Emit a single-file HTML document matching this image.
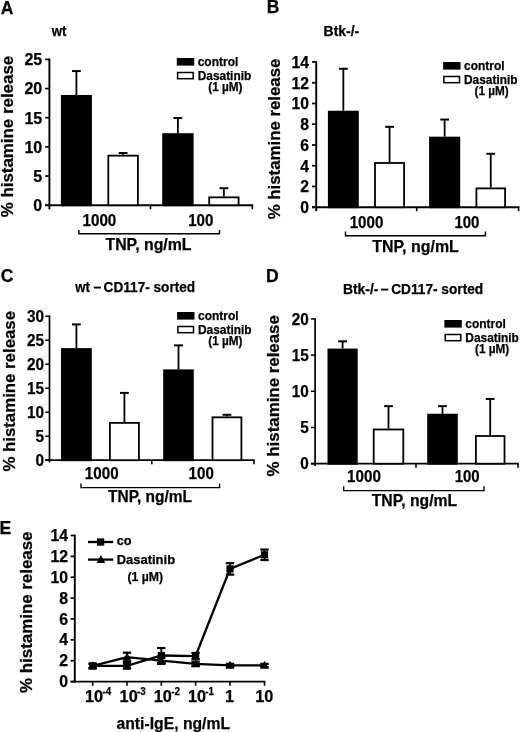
<!DOCTYPE html>
<html lang="en"><head><meta charset="utf-8"><title>Figure</title>
<style>html,body{margin:0;padding:0;background:#fff}svg{display:block}text{font-family:'Liberation Sans', Arial, Helvetica, sans-serif;font-weight:bold;fill:#000;stroke:#000;stroke-width:0.25px}</style>
</head><body>
<svg width="520" height="732" viewBox="0 0 520 732">
<rect x="0" y="0" width="520" height="732" fill="#fff"/>
<line x1="49.4" y1="58.55" x2="49.4" y2="209.39999999999998" stroke="#000" stroke-width="1.9" stroke-linecap="butt"/>
<line x1="45.199999999999996" y1="205.2" x2="253.10000000000002" y2="205.2" stroke="#000" stroke-width="1.9" stroke-linecap="butt"/>
<line x1="45.199999999999996" y1="205.2" x2="49.4" y2="205.2" stroke="#000" stroke-width="1.7" stroke-linecap="butt"/>
<text x="42.199999999999996" y="211.1" font-size="16" text-anchor="end">0</text>
<line x1="45.199999999999996" y1="176.04" x2="49.4" y2="176.04" stroke="#000" stroke-width="1.7" stroke-linecap="butt"/>
<text x="42.199999999999996" y="181.94" font-size="16" text-anchor="end">5</text>
<line x1="45.199999999999996" y1="146.88" x2="49.4" y2="146.88" stroke="#000" stroke-width="1.7" stroke-linecap="butt"/>
<text x="42.199999999999996" y="152.78" font-size="16" text-anchor="end">10</text>
<line x1="45.199999999999996" y1="117.72" x2="49.4" y2="117.72" stroke="#000" stroke-width="1.7" stroke-linecap="butt"/>
<text x="42.199999999999996" y="123.62" font-size="16" text-anchor="end">15</text>
<line x1="45.199999999999996" y1="88.56" x2="49.4" y2="88.56" stroke="#000" stroke-width="1.7" stroke-linecap="butt"/>
<text x="42.199999999999996" y="94.46" font-size="16" text-anchor="end">20</text>
<line x1="45.199999999999996" y1="59.400000000000006" x2="49.4" y2="59.400000000000006" stroke="#000" stroke-width="1.7" stroke-linecap="butt"/>
<text x="42.199999999999996" y="65.3" font-size="16" text-anchor="end">25</text>
<line x1="150.5" y1="205.2" x2="150.5" y2="209.2" stroke="#000" stroke-width="1.6" stroke-linecap="butt"/>
<line x1="252.3" y1="205.2" x2="252.3" y2="209.2" stroke="#000" stroke-width="1.6" stroke-linecap="butt"/>
<line x1="76.4" y1="71.06400000000002" x2="76.4" y2="94.97520000000002" stroke="#000" stroke-width="1.8" stroke-linecap="butt"/>
<line x1="72.0" y1="71.06400000000002" x2="80.80000000000001" y2="71.06400000000002" stroke="#000" stroke-width="2" stroke-linecap="butt"/>
<rect x="60.9" y="94.97520000000002" width="31.000000000000007" height="111.22479999999997" fill="#000"/>
<line x1="123.10000000000001" y1="153.0036" x2="123.10000000000001" y2="154.7532" stroke="#000" stroke-width="1.8" stroke-linecap="butt"/>
<line x1="118.7" y1="153.0036" x2="127.50000000000001" y2="153.0036" stroke="#000" stroke-width="2" stroke-linecap="butt"/>
<rect x="108.30000000000001" y="155.6532" width="29.600000000000005" height="49.5468" fill="#fff" stroke="#000" stroke-width="1.8"/>
<line x1="177.89999999999998" y1="118.0116" x2="177.89999999999998" y2="133.1748" stroke="#000" stroke-width="1.8" stroke-linecap="butt"/>
<line x1="173.49999999999997" y1="118.0116" x2="182.29999999999998" y2="118.0116" stroke="#000" stroke-width="2" stroke-linecap="butt"/>
<rect x="162.2" y="133.1748" width="31.400000000000006" height="73.02519999999998" fill="#000"/>
<line x1="223.9" y1="188.17056" x2="223.9" y2="196.452" stroke="#000" stroke-width="1.8" stroke-linecap="butt"/>
<line x1="219.5" y1="188.17056" x2="228.3" y2="188.17056" stroke="#000" stroke-width="2" stroke-linecap="butt"/>
<rect x="209.20000000000002" y="197.352" width="29.399999999999988" height="7.84799999999999" fill="#fff" stroke="#000" stroke-width="1.8"/>
<text x="99.4" y="225.6" font-size="16" text-anchor="middle" textLength="33.8" lengthAdjust="spacingAndGlyphs">1000</text>
<text x="200.8" y="225.6" font-size="16" text-anchor="middle" textLength="25.2" lengthAdjust="spacingAndGlyphs">100</text>
<polyline points="78.9,230 78.9,233.8 219.5,233.8 219.5,230" fill="none" stroke="#000" stroke-width="1.4"/>
<text x="105.5" y="249.5" font-size="16.5" text-anchor="start" textLength="86" lengthAdjust="spacingAndGlyphs">TNP, ng/mL</text>
<text x="12.9" y="217.3" font-size="16.5" text-anchor="start" textLength="161.5" lengthAdjust="spacingAndGlyphs" transform="rotate(-90 12.9 217.3)">% histamine release</text>
<text x="0.8" y="13.8" font-size="17.5" text-anchor="start">A</text>
<text x="51.8" y="35.8" font-size="14" text-anchor="start" textLength="14.6" lengthAdjust="spacingAndGlyphs">wt</text>
<rect x="176.8" y="58.0" width="17.4" height="7.6" fill="#000"/>
<text x="197.7" y="65.7" font-size="12.2" text-anchor="start" textLength="40.6" lengthAdjust="spacingAndGlyphs">control</text>
<rect x="177.6" y="72.5" width="15.6" height="6.199999999999999" fill="#fff" stroke="#000" stroke-width="1.5"/>
<text x="197.7" y="79.7" font-size="12.2" text-anchor="start" textLength="53.6" lengthAdjust="spacingAndGlyphs">Dasatinib</text>
<text x="208.3" y="91.2" font-size="12.2" text-anchor="start" textLength="34.2" lengthAdjust="spacingAndGlyphs">(1 µM)</text>
<line x1="316.2" y1="61.15" x2="316.2" y2="211.1" stroke="#000" stroke-width="1.9" stroke-linecap="butt"/>
<line x1="312.0" y1="207.2" x2="519.4" y2="207.2" stroke="#000" stroke-width="1.9" stroke-linecap="butt"/>
<line x1="312.0" y1="207.2" x2="316.2" y2="207.2" stroke="#000" stroke-width="1.7" stroke-linecap="butt"/>
<text x="309.0" y="213.0" font-size="15.7" text-anchor="end">0</text>
<line x1="312.0" y1="186.45714285714286" x2="316.2" y2="186.45714285714286" stroke="#000" stroke-width="1.7" stroke-linecap="butt"/>
<text x="309.0" y="192.26" font-size="15.7" text-anchor="end">2</text>
<line x1="312.0" y1="165.71428571428572" x2="316.2" y2="165.71428571428572" stroke="#000" stroke-width="1.7" stroke-linecap="butt"/>
<text x="309.0" y="171.51" font-size="15.7" text-anchor="end">4</text>
<line x1="312.0" y1="144.97142857142856" x2="316.2" y2="144.97142857142856" stroke="#000" stroke-width="1.7" stroke-linecap="butt"/>
<text x="309.0" y="150.77" font-size="15.7" text-anchor="end">6</text>
<line x1="312.0" y1="124.22857142857143" x2="316.2" y2="124.22857142857143" stroke="#000" stroke-width="1.7" stroke-linecap="butt"/>
<text x="309.0" y="130.03" font-size="15.7" text-anchor="end">8</text>
<line x1="312.0" y1="103.4857142857143" x2="316.2" y2="103.4857142857143" stroke="#000" stroke-width="1.7" stroke-linecap="butt"/>
<text x="309.0" y="109.29" font-size="15.7" text-anchor="end">10</text>
<line x1="312.0" y1="82.74285714285715" x2="316.2" y2="82.74285714285715" stroke="#000" stroke-width="1.7" stroke-linecap="butt"/>
<text x="309.0" y="88.54" font-size="15.7" text-anchor="end">12</text>
<line x1="312.0" y1="62.0" x2="316.2" y2="62.0" stroke="#000" stroke-width="1.7" stroke-linecap="butt"/>
<text x="309.0" y="67.8" font-size="15.7" text-anchor="end">14</text>
<line x1="416.7" y1="207.2" x2="416.7" y2="211.2" stroke="#000" stroke-width="1.6" stroke-linecap="butt"/>
<line x1="518.6" y1="207.2" x2="518.6" y2="211.2" stroke="#000" stroke-width="1.6" stroke-linecap="butt"/>
<line x1="343.35" y1="68.74142857142857" x2="343.35" y2="110.74571428571429" stroke="#000" stroke-width="1.8" stroke-linecap="butt"/>
<line x1="338.95000000000005" y1="68.74142857142857" x2="347.75" y2="68.74142857142857" stroke="#000" stroke-width="2" stroke-linecap="butt"/>
<rect x="327.9" y="110.74571428571429" width="30.900000000000034" height="97.4542857142857" fill="#000"/>
<line x1="389.55" y1="126.82142857142857" x2="389.55" y2="162.08428571428573" stroke="#000" stroke-width="1.8" stroke-linecap="butt"/>
<line x1="385.15000000000003" y1="126.82142857142857" x2="393.95" y2="126.82142857142857" stroke="#000" stroke-width="2" stroke-linecap="butt"/>
<rect x="375.0" y="162.98428571428573" width="29.099999999999977" height="44.21571428571426" fill="#fff" stroke="#000" stroke-width="1.8"/>
<line x1="444.65" y1="119.56142857142858" x2="444.65" y2="136.6742857142857" stroke="#000" stroke-width="1.8" stroke-linecap="butt"/>
<line x1="440.25" y1="119.56142857142858" x2="449.04999999999995" y2="119.56142857142858" stroke="#000" stroke-width="2" stroke-linecap="butt"/>
<rect x="429.1" y="136.6742857142857" width="31.099999999999966" height="71.52571428571429" fill="#000"/>
<line x1="490.75" y1="153.78714285714284" x2="490.75" y2="187.4942857142857" stroke="#000" stroke-width="1.8" stroke-linecap="butt"/>
<line x1="486.35" y1="153.78714285714284" x2="495.15" y2="153.78714285714284" stroke="#000" stroke-width="2" stroke-linecap="butt"/>
<rect x="476.4" y="188.3942857142857" width="28.7" height="18.805714285714295" fill="#fff" stroke="#000" stroke-width="1.8"/>
<text x="366.5" y="227.5" font-size="16" text-anchor="middle" textLength="33.6" lengthAdjust="spacingAndGlyphs">1000</text>
<text x="466.9" y="227.5" font-size="16" text-anchor="middle" textLength="25.0" lengthAdjust="spacingAndGlyphs">100</text>
<polyline points="345.5,231.5 345.5,235.8 485.4,235.8 485.4,231.5" fill="none" stroke="#000" stroke-width="1.4"/>
<text x="372.3" y="251.6" font-size="16.5" text-anchor="start" textLength="86.5" lengthAdjust="spacingAndGlyphs">TNP, ng/mL</text>
<text x="280.0" y="219.3" font-size="16.5" text-anchor="start" textLength="160.7" lengthAdjust="spacingAndGlyphs" transform="rotate(-90 280.0 219.3)">% histamine release</text>
<text x="266.8" y="12.75" font-size="17.5" text-anchor="start">B</text>
<text x="323.6" y="36.3" font-size="14" text-anchor="start" textLength="35.6" lengthAdjust="spacingAndGlyphs">Btk-/-</text>
<rect x="443.1" y="62" width="17.4" height="7.6" fill="#000"/>
<text x="464.0" y="69.7" font-size="12.2" text-anchor="start" textLength="40.6" lengthAdjust="spacingAndGlyphs">control</text>
<rect x="443.90000000000003" y="76.5" width="15.6" height="6.199999999999999" fill="#fff" stroke="#000" stroke-width="1.5"/>
<text x="464.0" y="83.7" font-size="12.2" text-anchor="start" textLength="53.6" lengthAdjust="spacingAndGlyphs">Dasatinib</text>
<text x="474.6" y="95.2" font-size="12.2" text-anchor="start" textLength="34.2" lengthAdjust="spacingAndGlyphs">(1 µM)</text>
<line x1="49.5" y1="315.45" x2="49.5" y2="462.4" stroke="#000" stroke-width="1.7" stroke-linecap="butt"/>
<line x1="45.3" y1="460.2" x2="254.8" y2="460.2" stroke="#000" stroke-width="1.7" stroke-linecap="butt"/>
<line x1="45.3" y1="460.2" x2="49.5" y2="460.2" stroke="#000" stroke-width="1.5" stroke-linecap="butt"/>
<text x="44.1" y="465.6" font-size="16" text-anchor="end" textLength="8.5" lengthAdjust="spacingAndGlyphs">0</text>
<line x1="45.3" y1="436.2" x2="49.5" y2="436.2" stroke="#000" stroke-width="1.5" stroke-linecap="butt"/>
<text x="44.1" y="441.6" font-size="16" text-anchor="end" textLength="8.5" lengthAdjust="spacingAndGlyphs">5</text>
<line x1="45.3" y1="412.2" x2="49.5" y2="412.2" stroke="#000" stroke-width="1.5" stroke-linecap="butt"/>
<text x="44.1" y="417.6" font-size="16" text-anchor="end" textLength="17.0" lengthAdjust="spacingAndGlyphs">10</text>
<line x1="45.3" y1="388.2" x2="49.5" y2="388.2" stroke="#000" stroke-width="1.5" stroke-linecap="butt"/>
<text x="44.1" y="393.6" font-size="16" text-anchor="end" textLength="17.0" lengthAdjust="spacingAndGlyphs">15</text>
<line x1="45.3" y1="364.2" x2="49.5" y2="364.2" stroke="#000" stroke-width="1.5" stroke-linecap="butt"/>
<text x="44.1" y="369.6" font-size="16" text-anchor="end" textLength="17.0" lengthAdjust="spacingAndGlyphs">20</text>
<line x1="45.3" y1="340.2" x2="49.5" y2="340.2" stroke="#000" stroke-width="1.5" stroke-linecap="butt"/>
<text x="44.1" y="345.6" font-size="16" text-anchor="end" textLength="17.0" lengthAdjust="spacingAndGlyphs">25</text>
<line x1="45.3" y1="316.2" x2="49.5" y2="316.2" stroke="#000" stroke-width="1.5" stroke-linecap="butt"/>
<text x="44.1" y="321.6" font-size="16" text-anchor="end" textLength="17.0" lengthAdjust="spacingAndGlyphs">30</text>
<line x1="151.8" y1="460.2" x2="151.8" y2="464.2" stroke="#000" stroke-width="1.6" stroke-linecap="butt"/>
<line x1="254" y1="460.2" x2="254" y2="464.2" stroke="#000" stroke-width="1.6" stroke-linecap="butt"/>
<line x1="76.4" y1="324.408" x2="76.4" y2="348.12" stroke="#000" stroke-width="1.8" stroke-linecap="butt"/>
<line x1="72.0" y1="324.408" x2="80.80000000000001" y2="324.408" stroke="#000" stroke-width="2" stroke-linecap="butt"/>
<rect x="61.0" y="348.12" width="30.799999999999997" height="113.07999999999998" fill="#000"/>
<line x1="124.4" y1="392.904" x2="124.4" y2="421.99199999999996" stroke="#000" stroke-width="1.8" stroke-linecap="butt"/>
<line x1="120.0" y1="392.904" x2="128.8" y2="392.904" stroke="#000" stroke-width="2" stroke-linecap="butt"/>
<rect x="109.9" y="422.89199999999994" width="29.00000000000001" height="37.30800000000003" fill="#fff" stroke="#000" stroke-width="1.8"/>
<line x1="178.5" y1="345.384" x2="178.5" y2="369.384" stroke="#000" stroke-width="1.8" stroke-linecap="butt"/>
<line x1="174.1" y1="345.384" x2="182.9" y2="345.384" stroke="#000" stroke-width="2" stroke-linecap="butt"/>
<rect x="163.2" y="369.384" width="30.600000000000023" height="91.81599999999997" fill="#000"/>
<line x1="226.95" y1="414.792" x2="226.95" y2="416.424" stroke="#000" stroke-width="1.8" stroke-linecap="butt"/>
<line x1="222.54999999999998" y1="414.792" x2="231.35" y2="414.792" stroke="#000" stroke-width="2" stroke-linecap="butt"/>
<rect x="212.5" y="417.32399999999996" width="28.900000000000016" height="42.87600000000001" fill="#fff" stroke="#000" stroke-width="1.8"/>
<text x="101.7" y="479.4" font-size="16" text-anchor="middle" textLength="33.8" lengthAdjust="spacingAndGlyphs">1000</text>
<text x="201.2" y="479.4" font-size="16" text-anchor="middle" textLength="25.2" lengthAdjust="spacingAndGlyphs">100</text>
<polyline points="81.0,483.5 81.0,487.6 219.6,487.6 219.6,483.5" fill="none" stroke="#000" stroke-width="1.4"/>
<text x="108" y="502.3" font-size="16.5" text-anchor="start" textLength="84" lengthAdjust="spacingAndGlyphs">TNP, ng/mL</text>
<text x="15.3" y="471.6" font-size="16.5" text-anchor="start" textLength="160.6" lengthAdjust="spacingAndGlyphs" transform="rotate(-90 15.3 471.6)">% histamine release</text>
<text x="0.7" y="281.8" font-size="17.5" text-anchor="start">C</text>
<text x="75.3" y="292" font-size="14" text-anchor="start" textLength="14.6" lengthAdjust="spacingAndGlyphs">wt</text>
<text x="93.5" y="292" font-size="14" text-anchor="start">–</text>
<text x="103.6" y="292" font-size="14" text-anchor="start" textLength="91.5" lengthAdjust="spacingAndGlyphs">CD117- sorted</text>
<rect x="177.10000000000002" y="312" width="17.4" height="7.6" fill="#000"/>
<text x="198.0" y="319.7" font-size="12.2" text-anchor="start" textLength="40.6" lengthAdjust="spacingAndGlyphs">control</text>
<rect x="177.9" y="326.5" width="15.6" height="6.199999999999999" fill="#fff" stroke="#000" stroke-width="1.5"/>
<text x="198.0" y="333.7" font-size="12.2" text-anchor="start" textLength="53.6" lengthAdjust="spacingAndGlyphs">Dasatinib</text>
<text x="208.3" y="345.2" font-size="12.2" text-anchor="start" textLength="34.2" lengthAdjust="spacingAndGlyphs">(1 µM)</text>
<line x1="315.1" y1="318.15" x2="315.1" y2="465.9" stroke="#000" stroke-width="1.7" stroke-linecap="butt"/>
<line x1="310.90000000000003" y1="463.7" x2="518.8" y2="463.7" stroke="#000" stroke-width="1.7" stroke-linecap="butt"/>
<line x1="310.90000000000003" y1="463.7" x2="315.1" y2="463.7" stroke="#000" stroke-width="1.5" stroke-linecap="butt"/>
<text x="308.70000000000005" y="469.3" font-size="16" text-anchor="end" textLength="8.5" lengthAdjust="spacingAndGlyphs">0</text>
<line x1="310.90000000000003" y1="427.5" x2="315.1" y2="427.5" stroke="#000" stroke-width="1.5" stroke-linecap="butt"/>
<text x="308.70000000000005" y="433.1" font-size="16" text-anchor="end" textLength="8.5" lengthAdjust="spacingAndGlyphs">5</text>
<line x1="310.90000000000003" y1="391.29999999999995" x2="315.1" y2="391.29999999999995" stroke="#000" stroke-width="1.5" stroke-linecap="butt"/>
<text x="308.70000000000005" y="396.9" font-size="16" text-anchor="end" textLength="17.0" lengthAdjust="spacingAndGlyphs">10</text>
<line x1="310.90000000000003" y1="355.09999999999997" x2="315.1" y2="355.09999999999997" stroke="#000" stroke-width="1.5" stroke-linecap="butt"/>
<text x="308.70000000000005" y="360.7" font-size="16" text-anchor="end" textLength="17.0" lengthAdjust="spacingAndGlyphs">15</text>
<line x1="310.90000000000003" y1="318.9" x2="315.1" y2="318.9" stroke="#000" stroke-width="1.5" stroke-linecap="butt"/>
<text x="308.70000000000005" y="324.5" font-size="16" text-anchor="end" textLength="17.0" lengthAdjust="spacingAndGlyphs">20</text>
<line x1="416" y1="463.7" x2="416" y2="467.7" stroke="#000" stroke-width="1.6" stroke-linecap="butt"/>
<line x1="518" y1="463.7" x2="518" y2="467.7" stroke="#000" stroke-width="1.6" stroke-linecap="butt"/>
<line x1="342.6" y1="341.344" x2="342.6" y2="348.584" stroke="#000" stroke-width="1.8" stroke-linecap="butt"/>
<line x1="338.20000000000005" y1="341.344" x2="347.0" y2="341.344" stroke="#000" stroke-width="2" stroke-linecap="butt"/>
<rect x="327.5" y="348.584" width="30.19999999999999" height="116.11599999999999" fill="#000"/>
<line x1="388.5" y1="406.142" x2="388.5" y2="428.586" stroke="#000" stroke-width="1.8" stroke-linecap="butt"/>
<line x1="384.1" y1="406.142" x2="392.9" y2="406.142" stroke="#000" stroke-width="2" stroke-linecap="butt"/>
<rect x="373.7" y="429.486" width="29.599999999999977" height="34.21399999999998" fill="#fff" stroke="#000" stroke-width="1.8"/>
<line x1="442.5" y1="406.142" x2="442.5" y2="413.74399999999997" stroke="#000" stroke-width="1.8" stroke-linecap="butt"/>
<line x1="438.1" y1="406.142" x2="446.9" y2="406.142" stroke="#000" stroke-width="2" stroke-linecap="butt"/>
<rect x="427.2" y="413.74399999999997" width="30.600000000000023" height="50.95600000000002" fill="#000"/>
<line x1="490.2" y1="398.902" x2="490.2" y2="435.102" stroke="#000" stroke-width="1.8" stroke-linecap="butt"/>
<line x1="485.8" y1="398.902" x2="494.59999999999997" y2="398.902" stroke="#000" stroke-width="2" stroke-linecap="butt"/>
<rect x="475.9" y="436.00199999999995" width="28.599999999999977" height="27.698000000000015" fill="#fff" stroke="#000" stroke-width="1.8"/>
<text x="364.0" y="482.3" font-size="16" text-anchor="middle" textLength="33.8" lengthAdjust="spacingAndGlyphs">1000</text>
<text x="467.2" y="482.3" font-size="16" text-anchor="middle" textLength="25.0" lengthAdjust="spacingAndGlyphs">100</text>
<polyline points="343.7,486.2 343.7,490.6 484.0,490.6 484.0,486.2" fill="none" stroke="#000" stroke-width="1.4"/>
<text x="371.7" y="506.4" font-size="16.5" text-anchor="start" textLength="85.5" lengthAdjust="spacingAndGlyphs">TNP, ng/mL</text>
<text x="279.2" y="476.4" font-size="16.5" text-anchor="start" textLength="161.3" lengthAdjust="spacingAndGlyphs" transform="rotate(-90 279.2 476.4)">% histamine release</text>
<text x="266.1" y="282" font-size="17.5" text-anchor="start">D</text>
<text x="342.9" y="293.8" font-size="14" text-anchor="start" textLength="35.6" lengthAdjust="spacingAndGlyphs">Btk-/-</text>
<text x="380.8" y="293.8" font-size="14" text-anchor="start">–</text>
<text x="391.2" y="293.8" font-size="14" text-anchor="start" textLength="92" lengthAdjust="spacingAndGlyphs">CD117- sorted</text>
<rect x="444.40000000000003" y="320.0" width="17.4" height="7.6" fill="#000"/>
<text x="465.3" y="327.7" font-size="12.2" text-anchor="start" textLength="40.6" lengthAdjust="spacingAndGlyphs">control</text>
<rect x="445.20000000000005" y="334.5" width="15.6" height="6.199999999999999" fill="#fff" stroke="#000" stroke-width="1.5"/>
<text x="465.3" y="341.7" font-size="12.2" text-anchor="start" textLength="53.6" lengthAdjust="spacingAndGlyphs">Dasatinib</text>
<text x="475.0" y="353.2" font-size="12.2" text-anchor="start" textLength="34.2" lengthAdjust="spacingAndGlyphs">(1 µM)</text>
<line x1="74.8" y1="534.65" x2="74.8" y2="682.5500000000001" stroke="#000" stroke-width="1.9" stroke-linecap="butt"/>
<line x1="70.6" y1="681.6" x2="265.3" y2="681.6" stroke="#000" stroke-width="1.9" stroke-linecap="butt"/>
<line x1="70.6" y1="681.6" x2="74.8" y2="681.6" stroke="#000" stroke-width="1.7" stroke-linecap="butt"/>
<text x="68.0" y="687.2" font-size="15.8" text-anchor="end">0</text>
<line x1="70.6" y1="660.7285714285714" x2="74.8" y2="660.7285714285714" stroke="#000" stroke-width="1.7" stroke-linecap="butt"/>
<text x="68.0" y="666.33" font-size="15.8" text-anchor="end">2</text>
<line x1="70.6" y1="639.8571428571429" x2="74.8" y2="639.8571428571429" stroke="#000" stroke-width="1.7" stroke-linecap="butt"/>
<text x="68.0" y="645.46" font-size="15.8" text-anchor="end">4</text>
<line x1="70.6" y1="618.9857142857143" x2="74.8" y2="618.9857142857143" stroke="#000" stroke-width="1.7" stroke-linecap="butt"/>
<text x="68.0" y="624.59" font-size="15.8" text-anchor="end">6</text>
<line x1="70.6" y1="598.1142857142858" x2="74.8" y2="598.1142857142858" stroke="#000" stroke-width="1.7" stroke-linecap="butt"/>
<text x="68.0" y="603.71" font-size="15.8" text-anchor="end">8</text>
<line x1="70.6" y1="577.2428571428571" x2="74.8" y2="577.2428571428571" stroke="#000" stroke-width="1.7" stroke-linecap="butt"/>
<text x="68.0" y="582.84" font-size="15.8" text-anchor="end">10</text>
<line x1="70.6" y1="556.3714285714286" x2="74.8" y2="556.3714285714286" stroke="#000" stroke-width="1.7" stroke-linecap="butt"/>
<text x="68.0" y="561.97" font-size="15.8" text-anchor="end">12</text>
<line x1="70.6" y1="535.5" x2="74.8" y2="535.5" stroke="#000" stroke-width="1.7" stroke-linecap="butt"/>
<text x="68.0" y="541.1" font-size="15.8" text-anchor="end">14</text>
<line x1="92.7" y1="681.6" x2="92.7" y2="685.8000000000001" stroke="#000" stroke-width="1.6" stroke-linecap="butt"/>
<line x1="127.0" y1="681.6" x2="127.0" y2="685.8000000000001" stroke="#000" stroke-width="1.6" stroke-linecap="butt"/>
<line x1="161.3" y1="681.6" x2="161.3" y2="685.8000000000001" stroke="#000" stroke-width="1.6" stroke-linecap="butt"/>
<line x1="195.6" y1="681.6" x2="195.6" y2="685.8000000000001" stroke="#000" stroke-width="1.6" stroke-linecap="butt"/>
<line x1="230.0" y1="681.6" x2="230.0" y2="685.8000000000001" stroke="#000" stroke-width="1.6" stroke-linecap="butt"/>
<line x1="264.5" y1="681.6" x2="264.5" y2="685.8000000000001" stroke="#000" stroke-width="1.6" stroke-linecap="butt"/>
<polyline fill="none" stroke="#000" stroke-width="2.3" points="92.7,665.95 127.0,665.95 161.3,655.51 195.6,656.03 230.0,568.89 264.5,554.81"/>
<polyline fill="none" stroke="#000" stroke-width="2.3" points="92.7,665.95 127.0,657.08 161.3,660.73 195.6,663.86 230.0,665.42 264.5,665.42"/>
<line x1="92.7" y1="663.86" x2="92.7" y2="668.03" stroke="#000" stroke-width="1.8" stroke-linecap="butt"/>
<line x1="88.5" y1="663.86" x2="96.9" y2="663.86" stroke="#000" stroke-width="2.2" stroke-linecap="butt"/>
<line x1="88.5" y1="668.03" x2="96.9" y2="668.03" stroke="#000" stroke-width="2.2" stroke-linecap="butt"/>
<rect x="89.10000000000001" y="662.35" width="7.2" height="7.2" fill="#000"/>
<line x1="127.0" y1="663.34" x2="127.0" y2="668.56" stroke="#000" stroke-width="1.8" stroke-linecap="butt"/>
<line x1="122.8" y1="663.34" x2="131.2" y2="663.34" stroke="#000" stroke-width="2.2" stroke-linecap="butt"/>
<line x1="122.8" y1="668.56" x2="131.2" y2="668.56" stroke="#000" stroke-width="2.2" stroke-linecap="butt"/>
<rect x="123.4" y="662.35" width="7.2" height="7.2" fill="#000"/>
<line x1="161.3" y1="648.0" x2="161.3" y2="663.02" stroke="#000" stroke-width="1.8" stroke-linecap="butt"/>
<line x1="157.10000000000002" y1="648.0" x2="165.5" y2="648.0" stroke="#000" stroke-width="2.2" stroke-linecap="butt"/>
<line x1="157.10000000000002" y1="663.02" x2="165.5" y2="663.02" stroke="#000" stroke-width="2.2" stroke-linecap="butt"/>
<rect x="157.70000000000002" y="651.91" width="7.2" height="7.2" fill="#000"/>
<line x1="195.6" y1="652.9" x2="195.6" y2="659.16" stroke="#000" stroke-width="1.8" stroke-linecap="butt"/>
<line x1="191.4" y1="652.9" x2="199.79999999999998" y2="652.9" stroke="#000" stroke-width="2.2" stroke-linecap="butt"/>
<line x1="191.4" y1="659.16" x2="199.79999999999998" y2="659.16" stroke="#000" stroke-width="2.2" stroke-linecap="butt"/>
<rect x="192.0" y="652.43" width="7.2" height="7.2" fill="#000"/>
<line x1="230.0" y1="563.15" x2="230.0" y2="574.63" stroke="#000" stroke-width="1.8" stroke-linecap="butt"/>
<line x1="225.8" y1="563.15" x2="234.2" y2="563.15" stroke="#000" stroke-width="2.2" stroke-linecap="butt"/>
<line x1="225.8" y1="574.63" x2="234.2" y2="574.63" stroke="#000" stroke-width="2.2" stroke-linecap="butt"/>
<rect x="226.4" y="565.29" width="7.2" height="7.2" fill="#000"/>
<line x1="264.5" y1="549.59" x2="264.5" y2="560.02" stroke="#000" stroke-width="1.8" stroke-linecap="butt"/>
<line x1="260.3" y1="549.59" x2="268.7" y2="549.59" stroke="#000" stroke-width="2.2" stroke-linecap="butt"/>
<line x1="260.3" y1="560.02" x2="268.7" y2="560.02" stroke="#000" stroke-width="2.2" stroke-linecap="butt"/>
<rect x="260.9" y="551.2099999999999" width="7.2" height="7.2" fill="#000"/>
<line x1="92.7" y1="663.86" x2="92.7" y2="668.03" stroke="#000" stroke-width="1.8" stroke-linecap="butt"/>
<line x1="88.5" y1="663.86" x2="96.9" y2="663.86" stroke="#000" stroke-width="2.2" stroke-linecap="butt"/>
<line x1="88.5" y1="668.03" x2="96.9" y2="668.03" stroke="#000" stroke-width="2.2" stroke-linecap="butt"/>
<polygon points="92.7,661.25 97.10000000000001,669.25 88.3,669.25" fill="#000"/>
<line x1="127.0" y1="652.69" x2="127.0" y2="661.46" stroke="#000" stroke-width="1.8" stroke-linecap="butt"/>
<line x1="122.8" y1="652.69" x2="131.2" y2="652.69" stroke="#000" stroke-width="2.2" stroke-linecap="butt"/>
<line x1="122.8" y1="661.46" x2="131.2" y2="661.46" stroke="#000" stroke-width="2.2" stroke-linecap="butt"/>
<polygon points="127.0,652.38 131.4,660.38 122.6,660.38" fill="#000"/>
<line x1="161.3" y1="657.6" x2="161.3" y2="663.86" stroke="#000" stroke-width="1.8" stroke-linecap="butt"/>
<line x1="157.10000000000002" y1="657.6" x2="165.5" y2="657.6" stroke="#000" stroke-width="2.2" stroke-linecap="butt"/>
<line x1="157.10000000000002" y1="663.86" x2="165.5" y2="663.86" stroke="#000" stroke-width="2.2" stroke-linecap="butt"/>
<polygon points="161.3,656.03 165.70000000000002,664.03 156.9,664.03" fill="#000"/>
<line x1="195.6" y1="661.77" x2="195.6" y2="665.95" stroke="#000" stroke-width="1.8" stroke-linecap="butt"/>
<line x1="191.4" y1="661.77" x2="199.79999999999998" y2="661.77" stroke="#000" stroke-width="2.2" stroke-linecap="butt"/>
<line x1="191.4" y1="665.95" x2="199.79999999999998" y2="665.95" stroke="#000" stroke-width="2.2" stroke-linecap="butt"/>
<polygon points="195.6,659.16 200.0,667.16 191.2,667.16" fill="#000"/>
<line x1="230.0" y1="663.86" x2="230.0" y2="666.99" stroke="#000" stroke-width="1.8" stroke-linecap="butt"/>
<line x1="225.8" y1="663.86" x2="234.2" y2="663.86" stroke="#000" stroke-width="2.2" stroke-linecap="butt"/>
<line x1="225.8" y1="666.99" x2="234.2" y2="666.99" stroke="#000" stroke-width="2.2" stroke-linecap="butt"/>
<polygon points="230.0,660.7199999999999 234.4,668.7199999999999 225.6,668.7199999999999" fill="#000"/>
<line x1="264.5" y1="663.86" x2="264.5" y2="666.99" stroke="#000" stroke-width="1.8" stroke-linecap="butt"/>
<line x1="260.3" y1="663.86" x2="268.7" y2="663.86" stroke="#000" stroke-width="2.2" stroke-linecap="butt"/>
<line x1="260.3" y1="666.99" x2="268.7" y2="666.99" stroke="#000" stroke-width="2.2" stroke-linecap="butt"/>
<polygon points="264.5,660.7199999999999 268.9,668.7199999999999 260.1,668.7199999999999" fill="#000"/>
<text x="85.0" y="701.6" font-size="16.3" text-anchor="start">10</text>
<text x="102.4" y="695.2" font-size="11" text-anchor="start" textLength="8.7" lengthAdjust="spacingAndGlyphs">-4</text>
<text x="119.6" y="701.6" font-size="16.3" text-anchor="start">10</text>
<text x="137.0" y="695.2" font-size="11" text-anchor="start" textLength="8.7" lengthAdjust="spacingAndGlyphs">-3</text>
<text x="153.8" y="701.6" font-size="16.3" text-anchor="start">10</text>
<text x="171.20000000000002" y="695.2" font-size="11" text-anchor="start" textLength="8.7" lengthAdjust="spacingAndGlyphs">-2</text>
<text x="187.9" y="701.6" font-size="16.3" text-anchor="start">10</text>
<text x="205.3" y="695.2" font-size="11" text-anchor="start" textLength="8.7" lengthAdjust="spacingAndGlyphs">-1</text>
<text x="229.6" y="701.6" font-size="16.3" text-anchor="middle">1</text>
<text x="264.3" y="701.6" font-size="16.3" text-anchor="middle">10</text>
<text x="116.5" y="728.6" font-size="16.5" text-anchor="start" textLength="113.6" lengthAdjust="spacingAndGlyphs">anti-IgE, ng/mL</text>
<text x="31.9" y="692.9" font-size="16.5" text-anchor="start" textLength="161.4" lengthAdjust="spacingAndGlyphs" transform="rotate(-90 31.9 692.9)">% histamine release</text>
<text x="-0.4" y="533.7" font-size="17.5" text-anchor="start">E</text>
<line x1="88" y1="542" x2="113.2" y2="542" stroke="#000" stroke-width="2.3" stroke-linecap="butt"/>
<rect x="97.0" y="538.3" width="7.2" height="7.4" fill="#000"/>
<text x="116.8" y="544.7" font-size="12.6" text-anchor="start" textLength="14.8" lengthAdjust="spacingAndGlyphs">co</text>
<line x1="88" y1="559.6" x2="113.2" y2="559.6" stroke="#000" stroke-width="2.3" stroke-linecap="butt"/>
<polygon points="100.9,554.9 105.30000000000001,562.9 96.5,562.9" fill="#000"/>
<text x="116.7" y="564.3" font-size="12.8" text-anchor="start" textLength="58.4" lengthAdjust="spacingAndGlyphs">Dasatinib</text>
<text x="127.4" y="580.7" font-size="12.8" text-anchor="start" textLength="35.6" lengthAdjust="spacingAndGlyphs">(1 µM)</text>
</svg>
</body></html>
